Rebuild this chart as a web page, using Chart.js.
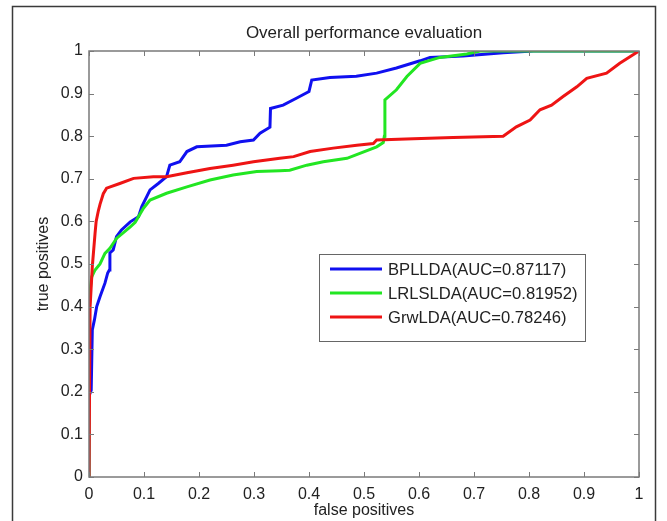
<!DOCTYPE html>
<html>
<head>
<meta charset="utf-8">
<script src="https://cdn.jsdelivr.net/npm/chart.js@4/dist/chart.umd.min.js"></script>
<style>
html,body{margin:0;padding:0;background:#fff;}
#wrap{width:667px;height:521px;position:relative;}
</style>
</head>
<body>
<div id="wrap"><canvas id="c" width="667" height="521"></canvas></div>
<script>
const titleText = "Overall performance evaluation";
const xTitle = "false positives";
const yTitle = "true positives";
const seriesNames = ["BPLLDA(AUC=0.87117)", "LRLSLDA(AUC=0.81952)", "GrwLDA(AUC=0.78246)"];
const tickValues = [0,0.1,0.2,0.3,0.4,0.5,0.6,0.7,0.8,0.9,1];
const tickLabels = ["0","0.1","0.2","0.3","0.4","0.5","0.6","0.7","0.8","0.9","1"];

const blueX = [0,0,0.004,0.006,0.010,0.014,0.020,0.029,0.034,0.037,0.038,0.044,0.050,0.059,0.075,0.090,0.096,0.111,0.126,0.141,0.147,0.165,0.178,0.196,0.250,0.275,0.299,0.311,0.329,0.330,0.353,0.377,0.400,0.405,0.438,0.486,0.523,0.559,0.602,0.620,0.680,0.753,0.808,1];
const blueY = [0,0.19,0.204,0.345,0.37,0.40,0.423,0.455,0.479,0.486,0.526,0.533,0.564,0.580,0.599,0.611,0.635,0.674,0.689,0.705,0.732,0.740,0.764,0.775,0.779,0.787,0.791,0.807,0.821,0.865,0.873,0.889,0.905,0.932,0.938,0.941,0.948,0.960,0.977,0.985,0.988,0.996,1.0,1];

const greenX = [0,0,0.003,0.005,0.011,0.020,0.029,0.038,0.050,0.075,0.084,0.099,0.111,0.141,0.178,0.220,0.262,0.305,0.347,0.365,0.396,0.426,0.469,0.523,0.535,0.537,0.538,0.559,0.578,0.602,0.638,0.687,0.711,1];
const greenY = [0,0.38,0.45,0.47,0.486,0.50,0.525,0.537,0.560,0.587,0.598,0.631,0.650,0.666,0.681,0.697,0.709,0.717,0.719,0.720,0.732,0.740,0.748,0.775,0.785,0.80,0.885,0.909,0.940,0.971,0.985,0.993,1.0,1];

const redX = [0,0.002,0.006,0.011,0.013,0.017,0.020,0.026,0.032,0.056,0.081,0.117,0.141,0.178,0.220,0.262,0.299,0.347,0.372,0.402,0.444,0.487,0.517,0.523,0.590,0.662,0.753,0.777,0.802,0.820,0.841,0.862,0.887,0.905,0.941,0.965,1];
const redY = [0,0.40,0.494,0.572,0.60,0.625,0.640,0.665,0.678,0.689,0.701,0.705,0.705,0.714,0.724,0.732,0.740,0.748,0.752,0.764,0.772,0.779,0.783,0.791,0.794,0.797,0.800,0.822,0.838,0.862,0.873,0.893,0.916,0.936,0.948,0.971,1];

const colors = ["#1010f0", "#22e622", "#ee1414"];

function pts(xs, ys){ return xs.map((x,i)=>({x:x, y:ys[i]})); }

const FONT = "'Liberation Sans', Arial, Helvetica, sans-serif";
const AXIS_COLOR = "#7a7a7a";

const decor = {
  id: 'decor',
  beforeDraw(chart){
    const ctx = chart.ctx;
    ctx.save();
    ctx.fillStyle = '#fff';
    ctx.fillRect(0,0,chart.width,chart.height);
    ctx.restore();
  },
  afterDatasetsDraw(chart){
    const ctx = chart.ctx;
    const a = chart.chartArea;
    const xs = chart.scales.x, ys = chart.scales.y;
    ctx.save();
    ctx.strokeStyle = AXIS_COLOR;
    ctx.lineWidth = 1.5;
    ctx.strokeRect(a.left, a.top, a.right - a.left, a.bottom - a.top);
    ctx.lineWidth = 1;
    ctx.beginPath();
    tickValues.forEach(v => {
      const px = Math.round(xs.getPixelForValue(v)) + 0.5;
      ctx.moveTo(px, a.bottom); ctx.lineTo(px, a.bottom - 5);
      ctx.moveTo(px, a.top); ctx.lineTo(px, a.top + 5);
      const py = Math.round(ys.getPixelForValue(v)) + 0.5;
      ctx.moveTo(a.left, py); ctx.lineTo(a.left + 5, py);
      ctx.moveTo(a.right, py); ctx.lineTo(a.right - 5, py);
    });
    ctx.stroke();
    ctx.strokeStyle = '#3a3a3a';
    ctx.lineWidth = 1.5;
    ctx.strokeRect(12.5, 6.5, 643, 530);
    ctx.fillStyle = '#222';
    ctx.font = "17px " + FONT;
    ctx.textAlign = 'center';
    ctx.textBaseline = 'middle';
    ctx.fillText(titleText, (a.left + a.right)/2, 33);
    ctx.font = "16px " + FONT;
    ctx.fillText(xTitle, (a.left + a.right)/2, 511);
    ctx.save();
    ctx.translate(44, (a.top + a.bottom)/2);
    ctx.rotate(-Math.PI/2);
    ctx.fillText(yTitle, 0, 0);
    ctx.restore();
    const lx = 319.5, ly = 254.5, lw = 266, lh = 87;
    ctx.fillStyle = '#fff';
    ctx.fillRect(lx, ly, lw, lh);
    ctx.strokeStyle = '#666';
    ctx.lineWidth = 1;
    ctx.strokeRect(lx, ly, lw, lh);
    ctx.font = "16.6px " + FONT;
    ctx.textAlign = 'left';
    chart.data.datasets.forEach((ds, i) => {
      const yy = 269 + i*24;
      ctx.strokeStyle = ds.borderColor;
      ctx.lineWidth = 3;
      ctx.beginPath();
      ctx.moveTo(330, yy); ctx.lineTo(382, yy);
      ctx.stroke();
      ctx.fillStyle = '#222';
      ctx.fillText(ds.label, 388, yy + 1);
    });
    ctx.restore();
  }
};

new Chart(document.getElementById('c'), {
  type: 'scatter',
  data: {
    datasets: [
      {label: seriesNames[0], data: pts(blueX, blueY), borderColor: colors[0], order: 3},
      {label: seriesNames[1], data: pts(greenX, greenY), borderColor: colors[1], order: 2},
      {label: seriesNames[2], data: pts(redX, redY), borderColor: colors[2], order: 1}
    ].map(d => Object.assign(d, {showLine: true, borderWidth: 3, pointRadius: 0, fill: false, tension: 0, borderJoinStyle: 'miter', backgroundColor: d.borderColor}))
  },
  options: {
    responsive: false,
    animation: false,
    devicePixelRatio: 1,
    layout: {padding: {top: 51, right: 28, left: 0, bottom: 0}},
    plugins: {legend: {display: false}, title: {display: false}, tooltip: {enabled: false}},
    scales: {
      x: {
        type: 'linear', min: 0, max: 1,
        afterFit(s){ s.height = 44; },
        afterBuildTicks(s){ s.ticks = tickValues.map(v => ({value: v})); },
        ticks: {callback: (v, i) => tickLabels[i], font: {size: 16, family: FONT}, color: '#222', padding: 8, maxRotation: 0, autoSkip: false},
        grid: {display: false, drawTicks: false},
        border: {display: false}
      },
      y: {
        type: 'linear', min: 0, max: 1,
        afterFit(s){ s.width = 89; },
        afterBuildTicks(s){ s.ticks = tickValues.map(v => ({value: v})); },
        ticks: {callback: (v, i) => tickLabels[i], font: {size: 16, family: FONT}, color: '#222', padding: 6, autoSkip: false},
        grid: {display: false, drawTicks: false},
        border: {display: false}
      }
    }
  },
  plugins: [decor]
});
</script>
</body>
</html>
